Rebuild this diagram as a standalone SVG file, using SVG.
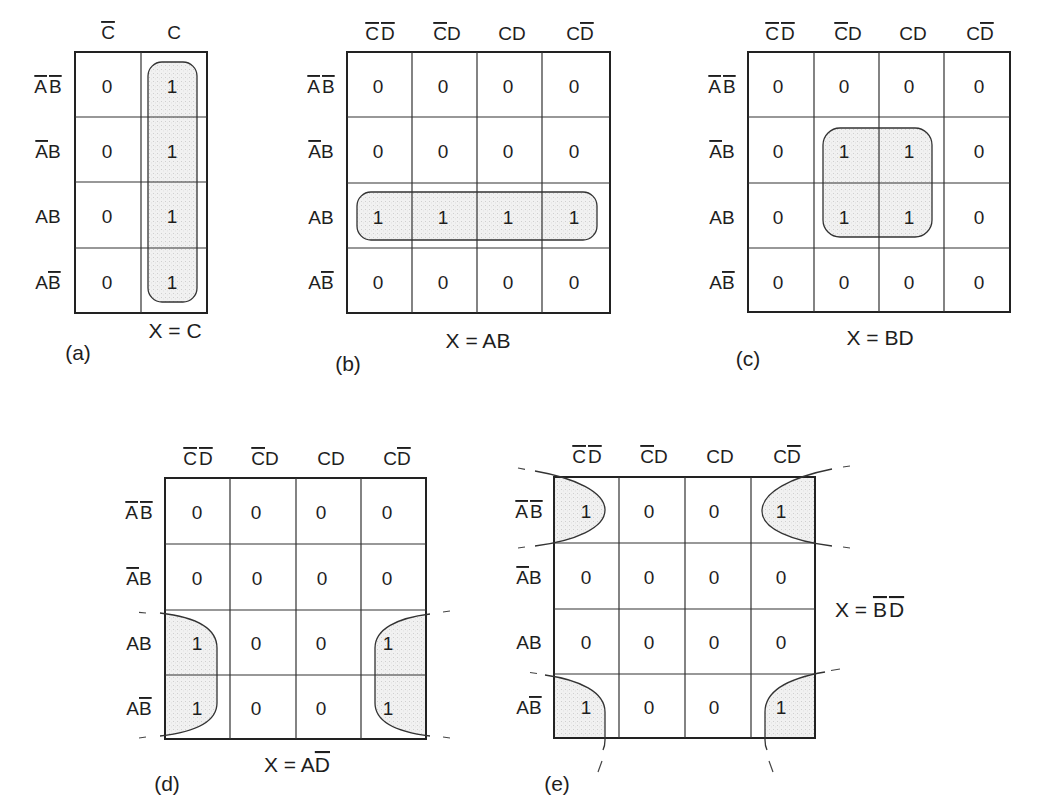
<svg xmlns="http://www.w3.org/2000/svg" width="1057" height="807" viewBox="0 0 1057 807">
<defs>
<style>
.frame{fill:none;stroke:#222;stroke-width:2}
.grid{fill:none;stroke:#333;stroke-width:1.2}
.t{font-family:"Liberation Sans",Arial,sans-serif;font-size:19px;fill:#1e1e1e;text-anchor:middle}
.eq{font-size:21px}
.ov{text-decoration:overline}
.loop{fill:none;stroke:#333;stroke-width:1.3}
.shade{fill:url(#stip);stroke:none}
.dash{fill:none;stroke:#444;stroke-width:1.2}
</style>
<pattern id="stip" width="4" height="4" patternUnits="userSpaceOnUse">
<rect width="4" height="4" fill="#f1f1f1"/>
<rect x="1" y="1" width="0.8" height="0.8" fill="#bdbdbd"/>
<rect x="3" y="2.6" width="0.7" height="0.7" fill="#cdcdcd"/>
</pattern>
<clipPath id="clipD"><rect x="165" y="478" width="261" height="261"/></clipPath>
<clipPath id="clipE"><rect x="554" y="477" width="261" height="261"/></clipPath>
</defs>
<rect width="1057" height="807" fill="#ffffff"/>

<!-- (a) -->
<g id="map-a">
<rect class="shade" x="148" y="62" width="49" height="240" rx="14"/>
<rect class="frame" x="75" y="52" width="132" height="261"/>
<path class="grid" d="M141,52V313M75,117H207M75,182H207M75,248H207"/>
<rect class="loop" x="148" y="62" width="49" height="240" rx="14"/>
<text class="t" x="108" y="39"><tspan class="ov">C</tspan></text>
<text class="t" x="174" y="39">C</text>
<text class="t" x="48" y="93"><tspan class="ov">A</tspan><tspan dx="2" class="ov">B</tspan></text>
<text class="t" x="48" y="158"><tspan class="ov">A</tspan>B</text>
<text class="t" x="48" y="223">AB</text>
<text class="t" x="48" y="289">A<tspan class="ov">B</tspan></text>
<text class="t" x="107" y="93">0</text><text class="t" x="172" y="93">1</text>
<text class="t" x="107" y="158">0</text><text class="t" x="172" y="158">1</text>
<text class="t" x="107" y="223">0</text><text class="t" x="172" y="223">1</text>
<text class="t" x="107" y="289">0</text><text class="t" x="172" y="289">1</text>
<text class="t eq" x="175" y="338">X = C</text>
<text class="t eq" x="78" y="360">(a)</text>
</g>

<!-- (b) -->
<g id="map-b">
<rect class="shade" x="357" y="192" width="240" height="48" rx="14"/>
<rect class="frame" x="347" y="52" width="263" height="261"/>
<path class="grid" d="M412,52V313M477,52V313M542,52V313M347,117H610M347,183H610M347,248H610"/>
<rect class="loop" x="357" y="192" width="240" height="48" rx="14"/>
<text class="t" x="380" y="40"><tspan class="ov">C</tspan><tspan dx="2" class="ov">D</tspan></text>
<text class="t" x="447" y="40"><tspan class="ov">C</tspan>D</text>
<text class="t" x="512" y="40">CD</text>
<text class="t" x="580" y="40">C<tspan class="ov">D</tspan></text>
<text class="t" x="321" y="93"><tspan class="ov">A</tspan><tspan dx="2" class="ov">B</tspan></text>
<text class="t" x="321" y="158"><tspan class="ov">A</tspan>B</text>
<text class="t" x="321" y="224">AB</text>
<text class="t" x="321" y="289">A<tspan class="ov">B</tspan></text>
<text class="t" x="378" y="93">0</text><text class="t" x="443" y="93">0</text><text class="t" x="508" y="93">0</text><text class="t" x="574" y="93">0</text>
<text class="t" x="378" y="158">0</text><text class="t" x="443" y="158">0</text><text class="t" x="508" y="158">0</text><text class="t" x="574" y="158">0</text>
<text class="t" x="378" y="224">1</text><text class="t" x="443" y="224">1</text><text class="t" x="508" y="224">1</text><text class="t" x="574" y="224">1</text>
<text class="t" x="378" y="289">0</text><text class="t" x="443" y="289">0</text><text class="t" x="508" y="289">0</text><text class="t" x="574" y="289">0</text>
<text class="t eq" x="478" y="348">X = AB</text>
<text class="t eq" x="348" y="371">(b)</text>
</g>

<!-- (c) -->
<g id="map-c">
<rect class="shade" x="823" y="128" width="109" height="109" rx="17"/>
<rect class="frame" x="748" y="52" width="262" height="260"/>
<path class="grid" d="M814,52V312M879,52V312M944,52V312M748,117H1010M748,183H1010M748,248H1010"/>
<rect class="loop" x="823" y="128" width="109" height="109" rx="17"/>
<text class="t" x="780" y="40"><tspan class="ov">C</tspan><tspan dx="2" class="ov">D</tspan></text>
<text class="t" x="848" y="40"><tspan class="ov">C</tspan>D</text>
<text class="t" x="913" y="40">CD</text>
<text class="t" x="980" y="40">C<tspan class="ov">D</tspan></text>
<text class="t" x="722" y="93"><tspan class="ov">A</tspan><tspan dx="2" class="ov">B</tspan></text>
<text class="t" x="722" y="158"><tspan class="ov">A</tspan>B</text>
<text class="t" x="722" y="224">AB</text>
<text class="t" x="722" y="289">A<tspan class="ov">B</tspan></text>
<text class="t" x="778" y="93">0</text><text class="t" x="844" y="93">0</text><text class="t" x="909" y="93">0</text><text class="t" x="979" y="93">0</text>
<text class="t" x="778" y="158">0</text><text class="t" x="844" y="158">1</text><text class="t" x="909" y="158">1</text><text class="t" x="979" y="158">0</text>
<text class="t" x="778" y="224">0</text><text class="t" x="844" y="224">1</text><text class="t" x="909" y="224">1</text><text class="t" x="979" y="224">0</text>
<text class="t" x="778" y="289">0</text><text class="t" x="844" y="289">0</text><text class="t" x="909" y="289">0</text><text class="t" x="979" y="289">0</text>
<text class="t eq" x="880" y="345">X = BD</text>
<text class="t eq" x="748" y="366">(c)</text>
</g>

<!-- (d) -->
<g id="map-d">
<g clip-path="url(#clipD)">
<path class="shade" d="M160,613C195,617 217,628 217,648L217,703C217,722 195,732 160,736Z"/>
<path class="shade" d="M430,614C397,618 375,629 375,648L375,703C375,722 397,732 430,736Z"/>
</g>
<rect class="frame" x="165" y="478" width="261" height="261"/>
<path class="grid" d="M230,478V739M296,478V739M361,478V739M165,544H426M165,610H426M165,675H426"/>
<path class="loop" d="M160,613C195,617 217,628 217,648L217,703C217,722 195,732 160,736"/>
<path class="loop" d="M430,614C397,618 375,629 375,648L375,703C375,722 397,732 430,736"/>
<path class="dash" d="M139,612.3L146,613M139,738L146,737M443,612L450,611M443,737L450,738"/>
<text class="t" x="198" y="465"><tspan class="ov">C</tspan><tspan dx="2" class="ov">D</tspan></text>
<text class="t" x="265" y="465"><tspan class="ov">C</tspan>D</text>
<text class="t" x="331" y="465">CD</text>
<text class="t" x="397" y="465">C<tspan class="ov">D</tspan></text>
<text class="t" x="139" y="519"><tspan class="ov">A</tspan><tspan dx="2" class="ov">B</tspan></text>
<text class="t" x="139" y="585"><tspan class="ov">A</tspan>B</text>
<text class="t" x="139" y="650">AB</text>
<text class="t" x="139" y="715">A<tspan class="ov">B</tspan></text>
<text class="t" x="197" y="519">0</text><text class="t" x="256" y="519">0</text><text class="t" x="321" y="519">0</text><text class="t" x="387" y="519">0</text>
<text class="t" x="197" y="585">0</text><text class="t" x="257" y="585">0</text><text class="t" x="322" y="585">0</text><text class="t" x="387" y="585">0</text>
<text class="t" x="197" y="650">1</text><text class="t" x="256" y="650">0</text><text class="t" x="321" y="650">0</text><text class="t" x="388" y="650">1</text>
<text class="t" x="197" y="715">1</text><text class="t" x="256" y="715">0</text><text class="t" x="321" y="715">0</text><text class="t" x="388" y="715">1</text>
<text class="t eq" x="297" y="772">X = A<tspan class="ov">D</tspan></text>
<text class="t eq" x="167" y="791">(d)</text>
</g>

<!-- (e) -->
<g id="map-e">
<g clip-path="url(#clipE)">
<path class="shade" d="M535,471C575,478 605,492 605,510C605,528 575,541 535,546Z"/>
<path class="shade" d="M832,469C792,477 762,492 762,511C762,529 792,541 832,546Z"/>
<path class="shade" d="M545,675C580,680 605,692 605,712L605,750L545,750Z"/>
<path class="shade" d="M825,672C790,678 765,690 765,712L765,750L825,750Z"/>
</g>
<rect class="frame" x="554" y="477" width="261" height="261"/>
<path class="grid" d="M619,477V738M685,477V738M751,477V738M554,543H815M554,609H815M554,674H815"/>
<path class="loop" d="M535,471C575,478 605,492 605,510C605,528 575,541 535,546"/>
<path class="loop" d="M832,469C792,477 762,492 762,511C762,529 792,541 832,546"/>
<path class="loop" d="M545,675C580,680 605,692 605,712L605,740Q605,746 603,750"/>
<path class="loop" d="M825,672C790,678 765,690 765,712L765,740Q765,746 767,750"/>
<path class="dash" d="M518,468L525,469.3M518,548L525,547M843,467L850,466M843,547L850,548M530,672.5L537,673.5M831,670.5L840,669M602,761L598,772M769,761L773,772"/>
<text class="t" x="587" y="463"><tspan class="ov">C</tspan><tspan dx="2" class="ov">D</tspan></text>
<text class="t" x="654" y="463"><tspan class="ov">C</tspan>D</text>
<text class="t" x="720" y="463">CD</text>
<text class="t" x="787" y="463">C<tspan class="ov">D</tspan></text>
<text class="t" x="529" y="518"><tspan class="ov">A</tspan><tspan dx="2" class="ov">B</tspan></text>
<text class="t" x="529" y="584"><tspan class="ov">A</tspan>B</text>
<text class="t" x="529" y="649">AB</text>
<text class="t" x="529" y="714">A<tspan class="ov">B</tspan></text>
<text class="t" x="586" y="518">1</text><text class="t" x="649" y="518">0</text><text class="t" x="714" y="518">0</text><text class="t" x="781" y="518">1</text>
<text class="t" x="586" y="584">0</text><text class="t" x="649" y="584">0</text><text class="t" x="714" y="584">0</text><text class="t" x="781" y="584">0</text>
<text class="t" x="586" y="649">0</text><text class="t" x="649" y="649">0</text><text class="t" x="714" y="649">0</text><text class="t" x="781" y="649">0</text>
<text class="t" x="586" y="714">1</text><text class="t" x="649" y="714">0</text><text class="t" x="714" y="714">0</text><text class="t" x="781" y="714">1</text>
<text class="t eq" x="835" y="617" style="text-anchor:start">X = <tspan class="ov">B</tspan><tspan dx="2" class="ov">D</tspan></text>
<text class="t eq" x="557" y="791">(e)</text>
</g>
</svg>
